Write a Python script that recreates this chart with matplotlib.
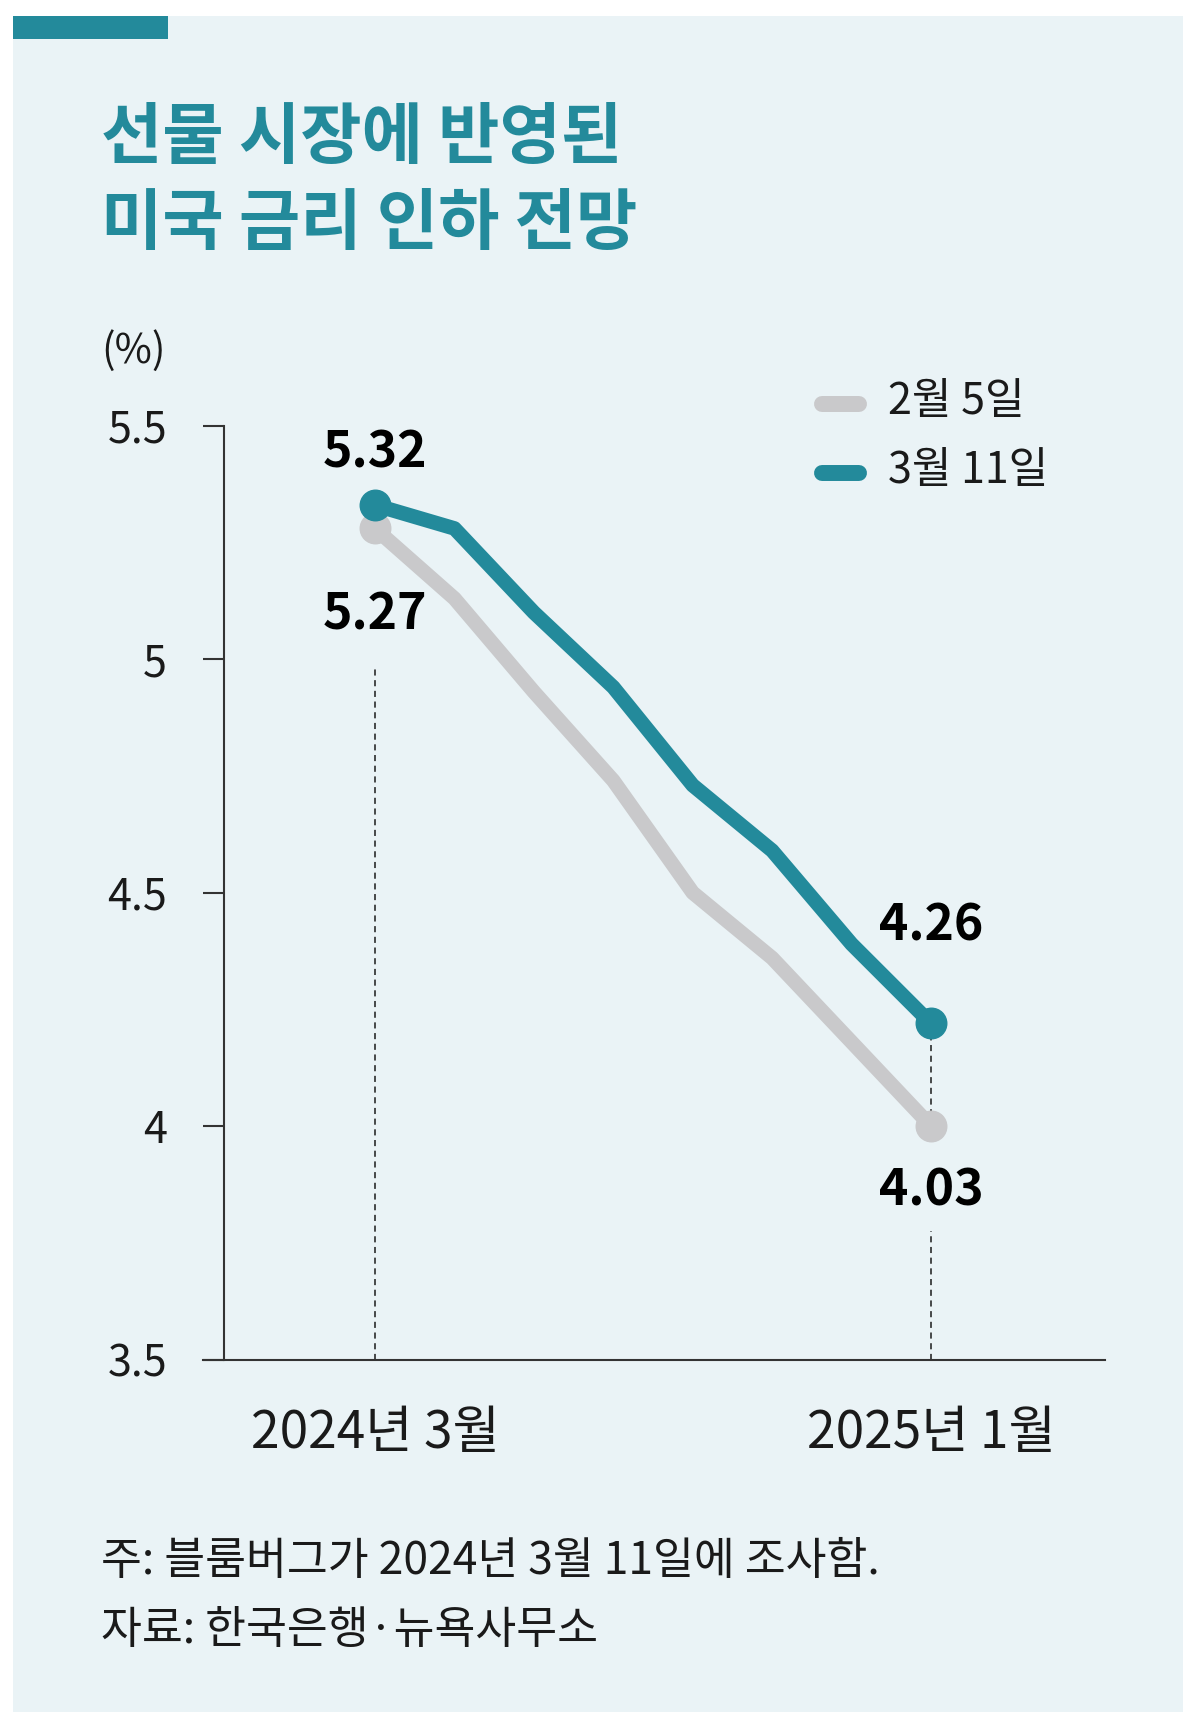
import numpy as np
import matplotlib
matplotlib.use("Agg")
from matplotlib import pyplot as plt
from matplotlib.patches import Rectangle
from matplotlib.lines import Line2D

plt.rcParams['font.family'] = ['Noto Sans CJK KR', 'DejaVu Sans']

# data (FOMC meetings, Mar 2024 .. Jan 2025)
meetings = np.arange(8)
feb5 = [5.28, 5.13, 4.93, 4.74, 4.50, 4.36, 4.18, 4.00]
mar11 = [5.33, 5.28, 5.10, 4.94, 4.73, 4.59, 4.39, 4.22]
seriesNames = ['2월 5일', '3월 11일']
xLabels = ['2024년 3월', '2025년 1월']
yTicks = [3.5, 4, 4.5, 5, 5.5]
yTickLabels = ['3.5', '4', '4.5', '5', '5.5']
endLabels = ['5.32', '5.27', '4.26', '4.03']

W, H = 1200, 1732
teal = '#238A9B'
grey = '#C9C9CB'
panel = '#EAF3F6'
ink = '#1A1A1A'

def fx(px):
    return px / W

def fy(py):
    return 1 - py / H

fig = plt.figure(figsize=(12, 17.32), dpi=100, facecolor='white')

# light panel and the little teal bar in the corner
fig.patches.append(Rectangle((fx(13), fy(1712)), fx(1183) - fx(13), fy(16) - fy(1712),
                             transform=fig.transFigure, facecolor=panel, edgecolor='none', zorder=-3))
fig.patches.append(Rectangle((fx(13), fy(39)), fx(168) - fx(13), fy(16) - fy(39),
                             transform=fig.transFigure, facecolor=teal, edgecolor='none', zorder=-2))

# title
fig.text(fx(101), fy(139), '선물 시장에 반영된', fontsize=48, fontweight='bold', color=teal, va='center', ha='left')
fig.text(fx(101), fy(224), '미국 금리 인하 전망', fontsize=48, fontweight='bold', color=teal, va='center', ha='left')

# unit
fig.text(fx(101), fy(351), '(%)', fontsize=29, color=ink, va='center', ha='left', fontweight='light')

# axes: x from 203px to 1105px, y from 3.5 (1359.6px) to 5.5 (425.7px)
axL, axR, axT, axB = 203, 1105, 425.7, 1359.6
ax = fig.add_axes([fx(axL), fy(axB), fx(axR) - fx(axL), fy(axT) - fy(axB)])
ax.set_zorder(2)
ax.set_facecolor('none')
step = (931 - 375) / 7
ax.set_xlim((axL - 375) / step, (axR - 375) / step)
ax.set_ylim(3.5, 5.5)

for s in ['top', 'right']:
    ax.spines[s].set_visible(False)
ax.spines['left'].set_position(('data', (224 - 375) / step))
ax.spines['left'].set_color('#333333')
ax.spines['left'].set_linewidth(1.5)
ax.spines['bottom'].set_color('#333333')
ax.spines['bottom'].set_linewidth(1.5)

ax.set_yticks(yTicks)
ax.set_yticklabels(yTickLabels)
ax.tick_params(axis='y', direction='out', length=15, width=1.5, color='#333333',
               labelsize=31, labelcolor=ink, pad=26)
ax.set_xticks([meetings[0], meetings[-1]])
ax.set_xticklabels(xLabels)
ax.tick_params(axis='x', length=0, labelsize=37, labelcolor=ink, pad=34)
for lab in ax.get_xticklabels() + ax.get_yticklabels():
    lab.set_fontweight('light')

# dashed guides
ax.plot([meetings[0], meetings[0]], [3.5, 4.98], ls=(0, (4, 3)), color=ink, lw=1.1, zorder=2)
ax.plot([meetings[-1], meetings[-1]], [feb5[-1], mar11[-1]], ls=(0, (4, 3)), color=ink, lw=1.1, zorder=2)
ax.plot([meetings[-1], meetings[-1]], [3.5, 3.776], ls=(0, (4, 3)), color=ink, lw=1.1, zorder=2)

# lines
ax.plot(meetings, feb5, color=grey, lw=10.5, solid_joinstyle='round', solid_capstyle='round',
        marker='o', markersize=22, markevery=[0, len(meetings) - 1], zorder=3, clip_on=False)
ax.plot(meetings, mar11, color=teal, lw=10.5, solid_joinstyle='round', solid_capstyle='round',
        marker='o', markersize=22, markevery=[0, len(meetings) - 1], zorder=4, clip_on=False)

# end labels
lblPos = [(meetings[0], 5.442), (meetings[0], 5.095), (meetings[-1], 4.429), (meetings[-1], 3.861)]
for (x, y), t in zip(lblPos, endLabels):
    ax.text(x, y, t, fontsize=36, fontweight='bold', color='black', ha='center', va='center')

# legend
for yy, c, name in [(404, grey, seriesNames[0]), (473, teal, seriesNames[1])]:
    fig.lines.append(Line2D([fx(822), fx(859)], [fy(yy), fy(yy)], transform=fig.transFigure,
                            color=c, lw=11.5, solid_capstyle='round'))
    fig.text(fx(888), fy(yy - 2), name, fontsize=31, color=ink, va='center', ha='left', fontweight='light')

# notes
fig.text(fx(101), fy(1561), '주: 블룸버그가 2024년 3월 11일에 조사함.', fontsize=32, color=ink,
         va='center', ha='left', fontweight='light')
fig.text(fx(101), fy(1630), '자료: 한국은행·뉴욕사무소', fontsize=32, color=ink,
         va='center', ha='left', fontweight='light')

fig.savefig('out.png', dpi=100, facecolor='white')
